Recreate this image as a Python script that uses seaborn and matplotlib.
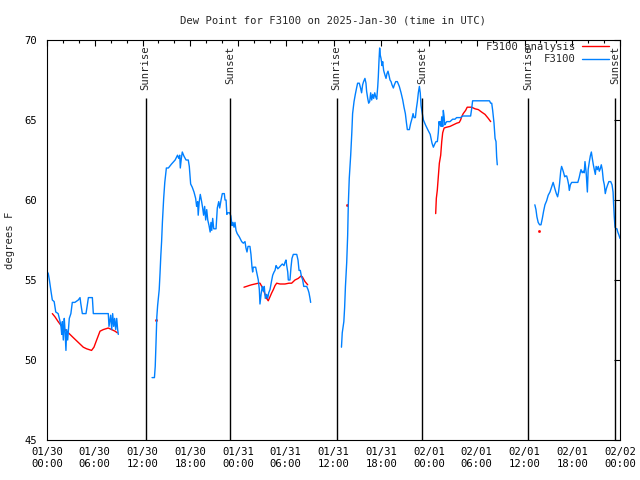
import pandas as pd
import seaborn as sns
import matplotlib.pyplot as plt
import matplotlib.dates as mdates
from matplotlib.lines import Line2D

start = pd.Timestamp('2025-01-30 00:00')

# hours after 01/30 00:00 UTC, one pair of lists per unbroken run of data
obs1_h = [0.05, 0.16, 0.3, 0.5, 0.67, 0.9, 1.1, 1.4, 1.6, 1.76, 1.85, 1.93, 2.05, 2.17, 2.26, 2.38, 2.47, 2.6, 2.8,
          3.0, 3.18, 3.5, 3.93, 4.15, 4.24, 4.44, 4.9, 5.1, 5.2, 5.7, 5.82, 7.7, 7.79, 8.0, 8.13, 8.25, 8.38, 8.5,
          8.63, 8.76, 8.88, 8.96]
obs1_v = [55.5, 55.4, 55.0, 54.3, 53.75, 53.65, 53.0, 52.9, 52.5, 52.1, 51.6, 52.4, 51.25, 52.6, 51.9, 50.6, 51.9,
          51.25, 52.6, 52.9, 53.6, 53.6, 53.75, 53.9, 53.55, 52.9, 52.9, 53.55, 53.9, 53.9, 52.9, 52.9, 52.1, 52.8,
          51.9, 52.9, 52.1, 52.6, 51.9, 52.6, 51.9, 51.6]

obs2_h = [13.2, 13.5, 13.6, 13.7, 13.8, 13.9, 14.1, 14.2, 14.3, 14.4, 14.5, 14.66, 14.8, 15.0, 15.25, 15.65, 16.1,
          16.4, 16.55, 16.68, 16.75, 16.88, 17.0, 17.2, 17.47, 17.75, 17.88, 18.05, 18.25, 18.47, 18.68, 18.8, 18.93,
          19.0, 19.13, 19.26, 19.43, 19.56, 19.68, 19.81, 19.94, 20.07, 20.2, 20.36, 20.5, 20.6, 20.7, 20.82, 20.95,
          21.24, 21.4, 21.58, 21.7, 21.87, 22.03, 22.28, 22.37, 22.5, 22.6, 22.7, 22.96, 23.1, 23.25, 23.37, 23.5,
          23.62, 23.75, 23.9, 24.16, 24.46, 24.67, 24.88, 25.0, 25.13, 25.26, 25.5, 25.63, 25.76, 25.84, 25.92,
          26.22, 26.34, 26.55, 26.68, 26.76, 26.9, 27.05, 27.18, 27.3, 27.43, 27.6, 27.73, 27.86, 28.02, 28.24,
          28.36, 28.53, 28.65, 28.78, 28.9, 29.0, 29.2, 29.37, 29.57, 29.78, 29.9, 30.03, 30.12, 30.25, 30.32,
          30.53, 30.66, 30.78, 30.95, 31.38, 31.54, 31.67, 31.83, 31.96, 32.13, 32.26, 32.63, 32.8, 32.92, 33.05,
          33.13]
obs2_v = [48.9, 48.9, 49.6, 51.1, 52.7, 53.4, 54.4, 55.4, 56.5, 57.4, 58.6, 60.1, 61.1, 62.0, 62.0, 62.25, 62.5,
          62.8, 62.6, 62.8, 62.0, 62.6, 63.0, 62.75, 62.5, 62.5, 62.1, 61.0, 60.8, 60.5, 60.1, 59.6, 59.9, 59.05,
          59.9, 60.35, 59.9, 59.5, 59.05, 59.6, 58.75, 59.4, 58.75, 58.4, 58.0, 58.6, 58.1, 58.85, 58.2, 58.2, 59.5,
          59.9, 59.5, 60.0, 60.4, 60.4, 60.0, 60.0, 59.1, 59.2, 59.2, 59.0, 58.4, 58.6, 58.3, 58.6, 58.1, 57.9, 57.7,
          57.4, 57.3, 57.4, 57.0, 56.75, 57.1, 57.1, 56.6, 55.8, 55.5, 55.8, 55.8, 55.5, 55.0, 54.4, 53.5, 54.1,
          54.6, 54.3, 54.6, 53.85, 54.1, 53.85, 54.2, 54.4, 55.0, 55.3, 55.5, 55.6, 55.9, 55.8, 55.7, 55.8, 55.9,
          56.0, 55.9, 56.1, 56.25, 55.9, 55.5, 55.0, 55.0, 55.8, 56.35, 56.6, 56.6, 56.25, 55.6, 55.6, 55.25, 55.0,
          54.6, 54.6, 54.4, 54.2, 53.85, 53.6]

obs3_h = [37.0, 37.1, 37.3, 37.4, 37.5, 37.66, 37.78, 37.86, 37.98, 38.16, 38.3, 38.4, 38.58, 38.74, 38.9, 39.03,
          39.24, 39.4, 39.53, 39.66, 39.78, 39.95, 40.08, 40.16, 40.3, 40.42, 40.55, 40.67, 40.8, 40.93, 41.05,
          41.18, 41.3, 41.43, 41.56, 41.63, 41.72, 41.8, 41.88, 41.97, 42.1, 42.18, 42.3, 42.47, 42.6, 42.72, 42.85,
          42.97, 43.1, 43.23, 43.35, 43.52, 43.65, 43.82, 44.02, 44.27, 44.49, 44.7, 44.86, 45.03, 45.16, 45.28,
          45.53, 45.7, 45.87, 46.0, 46.12, 46.29, 46.41, 46.54, 46.66, 46.79, 46.9, 47.0, 47.16, 47.3, 47.55, 47.84,
          48.15, 48.38, 48.55, 48.72, 48.88, 49.05, 49.17, 49.26, 49.35, 49.43, 49.52, 49.6, 49.73, 49.8, 49.9,
          49.98, 50.1, 50.23, 50.64, 50.97, 51.26, 51.47, 51.97, 52.23, 53.23, 53.36, 53.48, 55.6, 55.75, 55.88,
          56.0, 56.17, 56.3, 56.42, 56.5, 56.58]
obs3_v = [50.8, 51.7, 52.4, 53.3, 54.6, 56.1, 57.8, 59.7, 61.35, 62.8, 64.2, 65.4, 66.15, 66.6, 67.0, 67.3, 67.3,
          67.0, 66.7, 67.2, 67.4, 67.6, 67.3, 66.8, 66.35, 66.05, 66.15, 66.7, 66.25, 66.6, 66.35, 66.7, 66.45, 66.3,
          67.1, 67.7, 68.75, 69.5, 69.05, 68.85, 68.4, 68.65, 68.1, 67.8, 67.6, 67.9, 68.05, 67.8, 67.5, 67.4, 67.2,
          67.0, 67.2, 67.4, 67.4, 67.1, 66.7, 66.25, 65.8, 65.4, 64.85, 64.4, 64.4, 64.8, 65.1, 65.4, 65.15, 65.15,
          65.7, 66.15, 66.7, 67.1, 66.7, 65.9, 65.4, 65.0, 64.7, 64.4, 64.1, 63.55, 63.3, 63.5, 63.65, 63.65, 64.2,
          64.9, 64.7, 64.9, 64.6, 65.2, 64.6, 65.6, 65.2, 64.7, 64.8, 64.9, 64.9, 65.05, 65.05, 65.15, 65.15, 65.25,
          65.25, 65.7, 66.2, 66.2, 66.05, 66.05, 65.6, 64.8, 63.85, 63.65, 62.7, 62.2]

obs4_h = [61.3, 61.44, 61.56, 61.72, 61.9, 62.07, 62.24, 62.4, 62.57, 62.78, 62.98, 63.2, 63.4, 63.6, 63.82, 64.0,
          64.16, 64.28, 64.4, 64.55, 64.66, 64.8, 64.92, 65.05, 65.17, 65.3, 65.43, 65.55, 65.63, 65.76, 65.93,
          66.24, 66.7, 66.87, 67.0, 67.1, 67.25, 67.38, 67.5, 67.6, 67.75, 67.9, 68.0, 68.15, 68.27, 68.4, 68.52,
          68.65, 68.77, 68.9, 69.0, 69.15, 69.27, 69.4, 69.52, 69.65, 69.77, 69.9, 70.03, 70.15, 70.28, 70.45,
          70.6, 70.83, 71.0, 71.13, 71.2, 71.28, 71.37, 71.5, 71.62, 71.72, 71.87, 72.0]
obs4_v = [59.7, 59.4, 58.95, 58.6, 58.45, 58.45, 58.85, 59.3, 59.7, 59.95, 60.3, 60.5, 60.8, 61.1, 60.7, 60.4, 60.2,
          60.5, 61.0, 61.8, 62.1, 61.9, 61.7, 61.45, 61.5, 61.5, 61.25, 60.95, 60.6, 60.95, 61.1, 61.1, 61.1, 61.4,
          61.7, 61.9, 61.7, 61.8, 61.7, 62.4, 61.7, 60.5, 61.9, 62.4, 62.75, 63.0, 62.6, 62.2, 61.9, 61.6, 62.1,
          61.9, 62.1, 61.8, 61.95, 62.2, 61.9, 61.25, 60.95, 60.4, 60.7, 60.95, 61.15, 61.15, 60.95, 60.5, 59.7,
          58.95, 58.3, 58.2, 58.2, 58.0, 57.8, 57.6]

ana1_h = [0.67, 1.0, 1.4, 1.85, 2.26, 2.68, 3.3, 3.93, 4.56, 4.98, 5.6, 5.9, 6.24, 6.66, 7.07, 7.7, 8.13, 8.55, 8.84]
ana1_v = [52.9, 52.7, 52.4, 52.1, 51.9, 51.7, 51.4, 51.1, 50.8, 50.7, 50.6, 50.8, 51.25, 51.8, 51.9, 52.0, 51.9,
          51.8, 51.7]
ana2_h = [24.75, 25.08, 25.37, 25.7, 26.13, 26.55, 26.77, 26.98, 27.18, 27.4, 27.6, 27.8, 28.02, 28.24, 28.44,
          28.65, 28.86, 29.28, 29.9, 30.4, 30.74, 31.16, 31.57, 31.92, 32.08, 32.42, 32.76]
ana2_v = [54.55, 54.6, 54.65, 54.7, 54.75, 54.8, 54.8, 54.6, 54.4, 54.1, 53.85, 53.7, 53.95, 54.2, 54.4, 54.65,
          54.8, 54.75, 54.75, 54.8, 54.8, 55.0, 55.1, 55.25, 55.2, 54.9, 54.7]
ana3_h = [48.84, 48.92, 49.04, 49.17, 49.3, 49.47, 49.6, 49.72, 49.9, 50.22, 50.64, 51.06, 51.48, 51.8, 51.97, 52.1,
          52.3, 52.6, 52.8, 53.36, 53.78, 54.2, 54.6, 55.04, 55.45, 55.75]
ana3_v = [59.15, 60.1, 60.6, 61.45, 62.3, 62.8, 63.65, 64.2, 64.5, 64.55, 64.6, 64.7, 64.8, 64.85, 65.0, 65.2, 65.4,
          65.6, 65.8, 65.8, 65.7, 65.65, 65.5, 65.35, 65.1, 64.9]
# lone analysis values with no neighbour to join
ana_pts_h = [13.68, 37.68, 61.8]
ana_pts_v = [52.5, 59.7, 58.05]

sun_h = [12.4, 23.05, 36.4, 47.16, 60.5, 71.37]
sun_lab = ['Sunrise', 'Sunset', 'Sunrise', 'Sunset', 'Sunrise', 'Sunset']


def seg_frame(hours, vals, name, seg):
    return pd.DataFrame({'time': start + pd.to_timedelta(hours, unit='h'),
                         'dewpt': vals, 'series': name, 'seg': seg})


df = pd.concat([
    seg_frame(ana1_h, ana1_v, 'F3100 analysis', 'a1'),
    seg_frame(ana2_h, ana2_v, 'F3100 analysis', 'a2'),
    seg_frame(ana3_h, ana3_v, 'F3100 analysis', 'a3'),
    seg_frame(obs1_h, obs1_v, 'F3100', 'o1'),
    seg_frame(obs2_h, obs2_v, 'F3100', 'o2'),
    seg_frame(obs3_h, obs3_v, 'F3100', 'o3'),
    seg_frame(obs4_h, obs4_v, 'F3100', 'o4'),
], ignore_index=True)
pts = seg_frame(ana_pts_h, ana_pts_v, 'F3100 analysis', 'p')

colors = {'F3100 analysis': '#ff0000', 'F3100': '#0080ff'}

sns.set_style('white')
plt.rcParams['font.family'] = ['DejaVu Sans Mono']
fs = 7.6

fig = plt.figure(figsize=(6.4, 4.8), dpi=100)
ax = fig.add_axes([47 / 640, 40 / 480, 573 / 640, 400 / 480])

# lone red values sit just under the blue trace
ax.plot(pts['time'], pts['dewpt'], 's', color='#ff0000', markersize=0.9, linestyle='none', zorder=1)
sns.lineplot(data=df, x='time', y='dewpt', hue='series', units='seg', estimator=None,
             palette=colors, hue_order=['F3100 analysis', 'F3100'], linewidth=1.0, legend=False, ax=ax)

# sunrise / sunset markers
for h, lab in zip(sun_h, sun_lab):
    t = start + pd.Timedelta(hours=h)
    ax.vlines(t, 45, 66.4, color='black', linewidth=1.0)
    ax.text(t, 69.65, lab, rotation=90, ha='center', va='top', fontsize=fs)

ax.set_xlim(start, start + pd.Timedelta(hours=72))
ax.set_ylim(45, 70)
ax.set_yticks([45, 50, 55, 60, 65, 70])
ax.xaxis.set_major_locator(mdates.HourLocator(byhour=range(0, 24, 6)))
ax.xaxis.set_minor_locator(mdates.HourLocator(byhour=range(0, 24, 2)))
ax.xaxis.set_major_formatter(mdates.DateFormatter('%m/%d\n%H:%M'))

ax.tick_params(which='both', direction='in', top=True, right=True, width=0.8, labelsize=fs, colors='black')
ax.tick_params(which='major', length=4.5)
ax.tick_params(which='minor', length=2.2)
ax.tick_params(axis='y', pad=7)
ax.tick_params(axis='x', pad=5)
for s in ax.spines.values():
    s.set_color('black')
    s.set_linewidth(0.8)

ax.set_xlabel('')
ax.set_ylabel('degrees F', fontsize=fs)
ax.yaxis.set_label_coords(-0.055, 0.5)
ax.set_title('Dew Point for F3100 on 2025-Jan-30 (time in UTC)', fontsize=fs, pad=12)

handles = [Line2D([], [], color=colors[k], linewidth=1.0) for k in ['F3100 analysis', 'F3100']]
ax.legend(handles, ['F3100 analysis', 'F3100'], loc='upper right', bbox_to_anchor=(0.985, 1.0),
          frameon=False, markerfirst=False, fontsize=fs, handlelength=2.6, handletextpad=0.6,
          labelspacing=0.2, borderpad=0.2, borderaxespad=0)

fig.savefig('out.png', dpi=100)
